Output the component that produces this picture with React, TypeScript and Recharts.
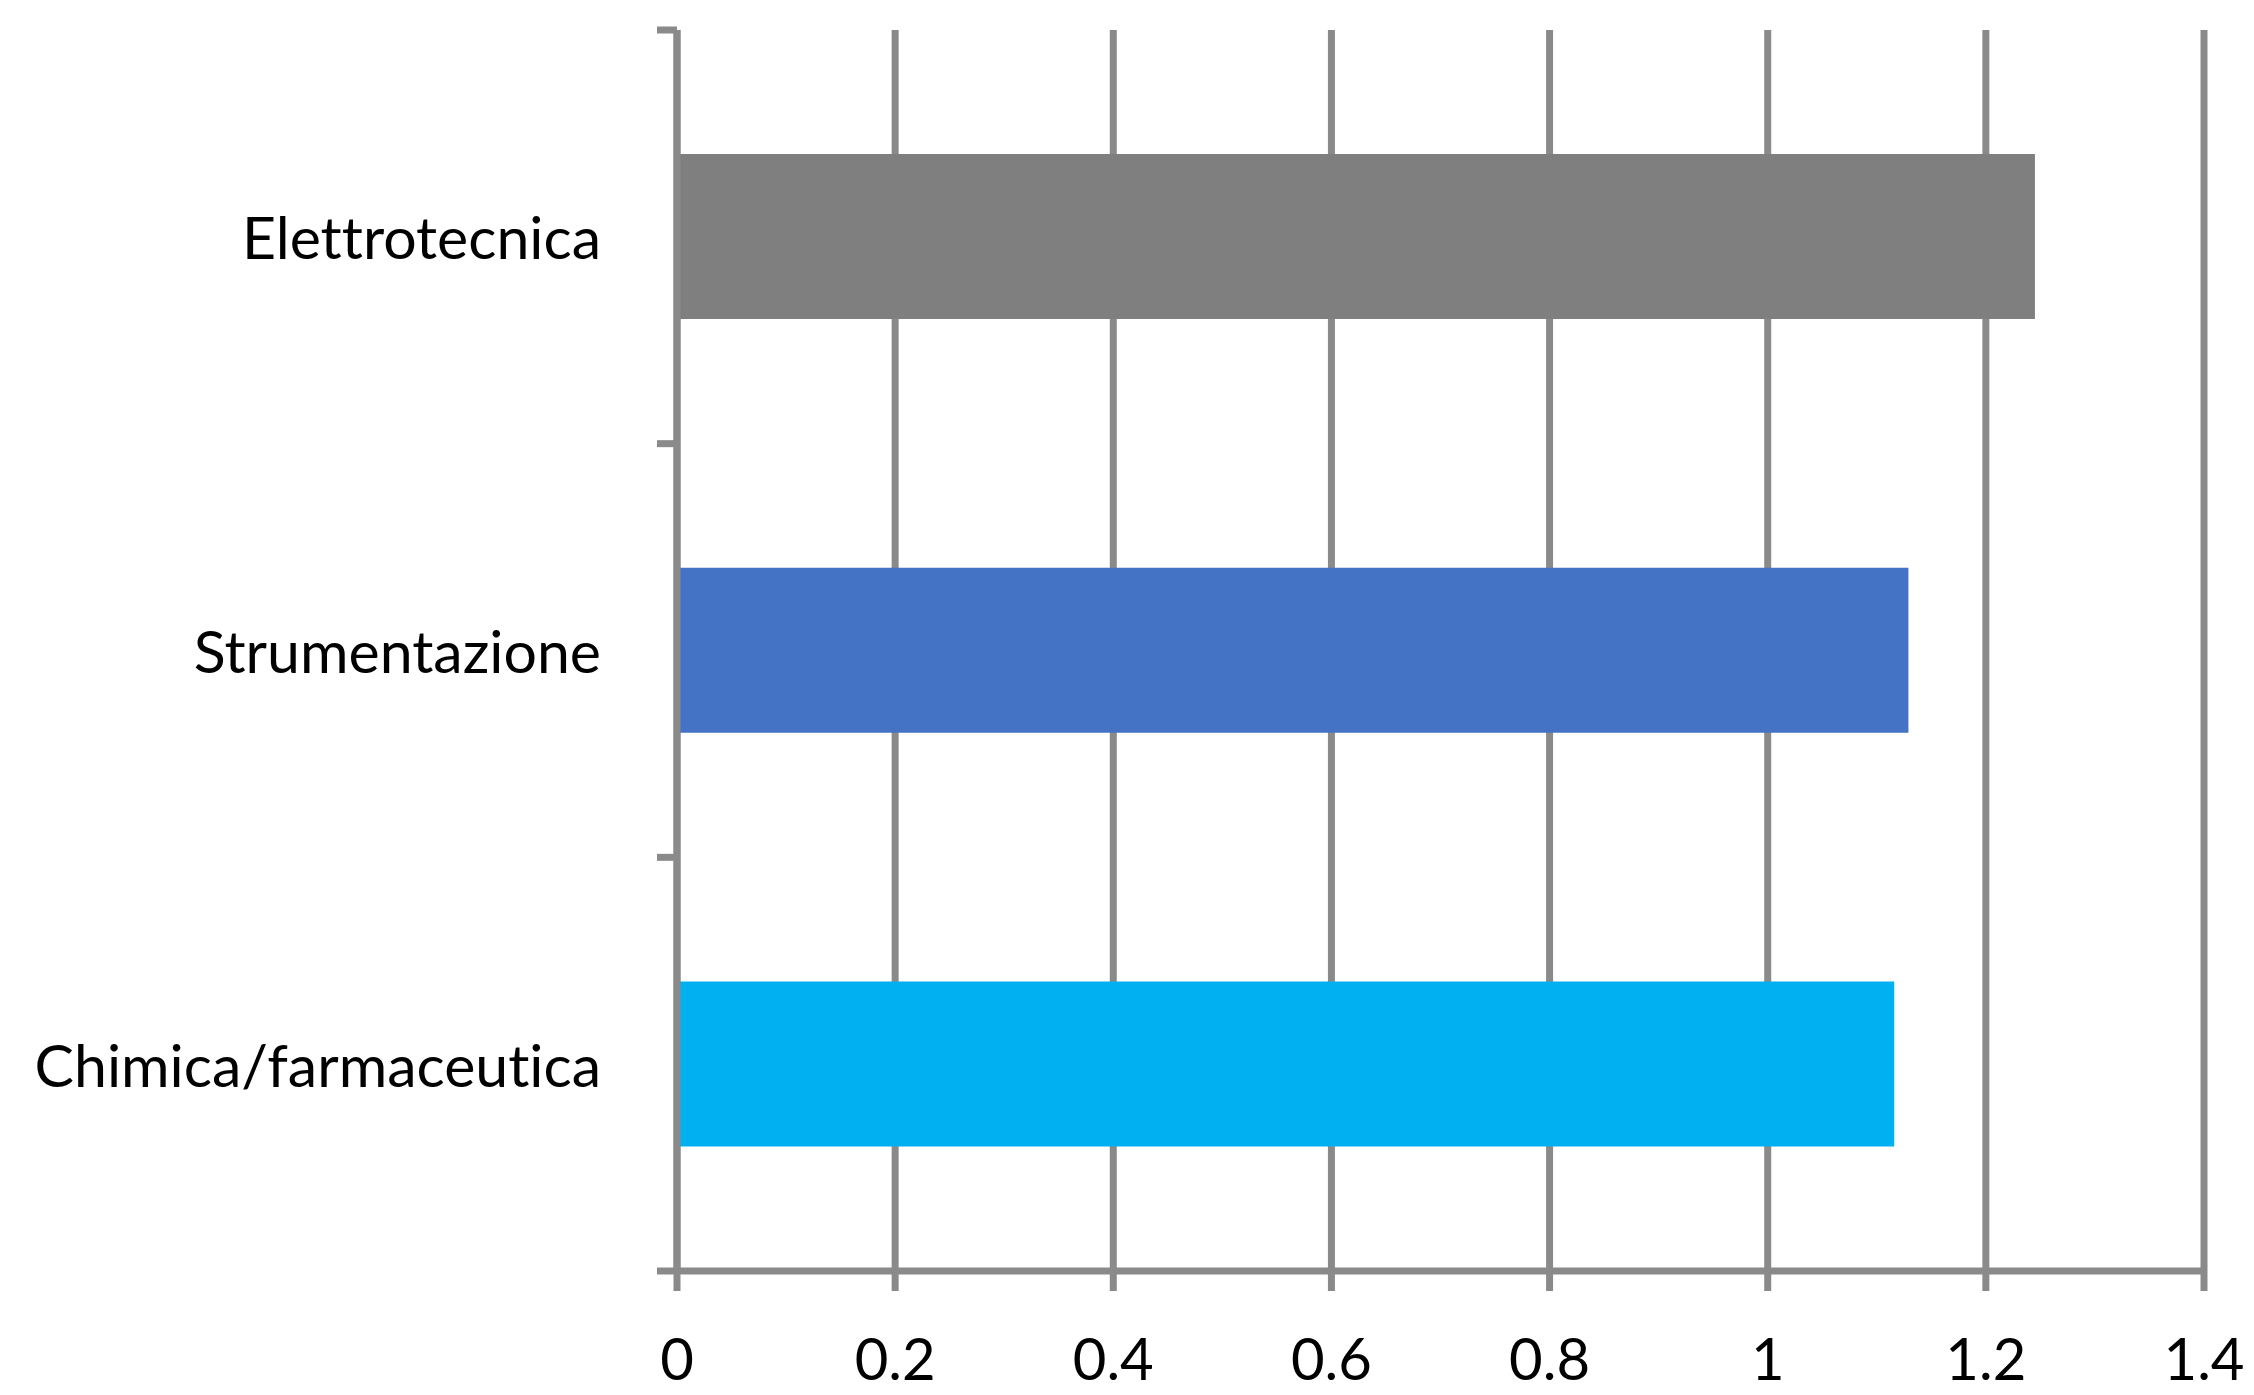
import { BarChart, Bar, XAxis, YAxis, CartesianGrid, Cell } from 'recharts';

const categories = ['Elettrotecnica', 'Strumentazione', 'Chimica/farmaceutica'];
const values = [1.245, 1.129, 1.116];
const barColors = ['#7f7f7f', '#4472c4', '#00b0f0'];
const xTicks = [0, 0.2, 0.4, 0.6, 0.8, 1, 1.2, 1.4];

const axisColor = '#8a8a8a';
const fontFamily = 'Lato, "Open Sans", sans-serif';

const data = categories.map((name, i) => ({ name, value: values[i] }));

// category labels at the band centre, tick marks on the band edges
function CategoryTick(props: any) {
  const { x, y, payload, index } = props;
  const axisX = x + 76;
  const half = payload?.offset || 206.8;
  const last = index === categories.length - 1 || payload?.value === categories[categories.length - 1];
  return (
    <g>
      <line x1={axisX - 20} x2={axisX} y1={y - half} y2={y - half} stroke={axisColor} strokeWidth={7} />
      {last && (
        <line x1={axisX - 20} x2={axisX} y1={y + half} y2={y + half} stroke={axisColor} strokeWidth={7} />
      )}
      <text
        x={x}
        y={y}
        textAnchor="end"
        dominantBaseline="central"
        fill="#000"
        fontSize={59}
        fontFamily={fontFamily}
        style={{ fontVariantLigatures: 'none' }}
      >
        {payload.value}
      </text>
    </g>
  );
}

export default function App() {
  return (
    <div style={{ position: 'absolute', left: 0, top: 0, background: '#fff' }}>
      <BarChart
        width={2254}
        height={1395}
        data={data}
        layout="vertical"
        barCategoryGap="30%"
        margin={{ top: 30, right: 50, bottom: 0, left: 0 }}
      >
        <CartesianGrid horizontal={false} stroke={axisColor} strokeWidth={7} />
        <Bar dataKey="value" isAnimationActive={false}>
          {data.map((d, i) => (
            <Cell key={d.name} fill={barColors[i]} />
          ))}
        </Bar>
        <XAxis
          type="number"
          domain={[0, 1.4]}
          ticks={xTicks}
          height={124}
          stroke={axisColor}
          axisLine={{ stroke: axisColor, strokeWidth: 7 }}
          tickLine={{ stroke: axisColor, strokeWidth: 7 }}
          tickSize={20}
          tickMargin={48}
          tick={{ fill: '#000', fontSize: 58, fontFamily }}
          tickFormatter={(v: number) => String(v)}
          interval={0}
        />
        <YAxis
          type="category"
          dataKey="name"
          width={677}
          axisLine={{ stroke: axisColor, strokeWidth: 7 }}
          tickLine={false}
          tickSize={20}
          tickMargin={56}
          tick={<CategoryTick />}
          interval={0}
        />
      </BarChart>
    </div>
  );
}
